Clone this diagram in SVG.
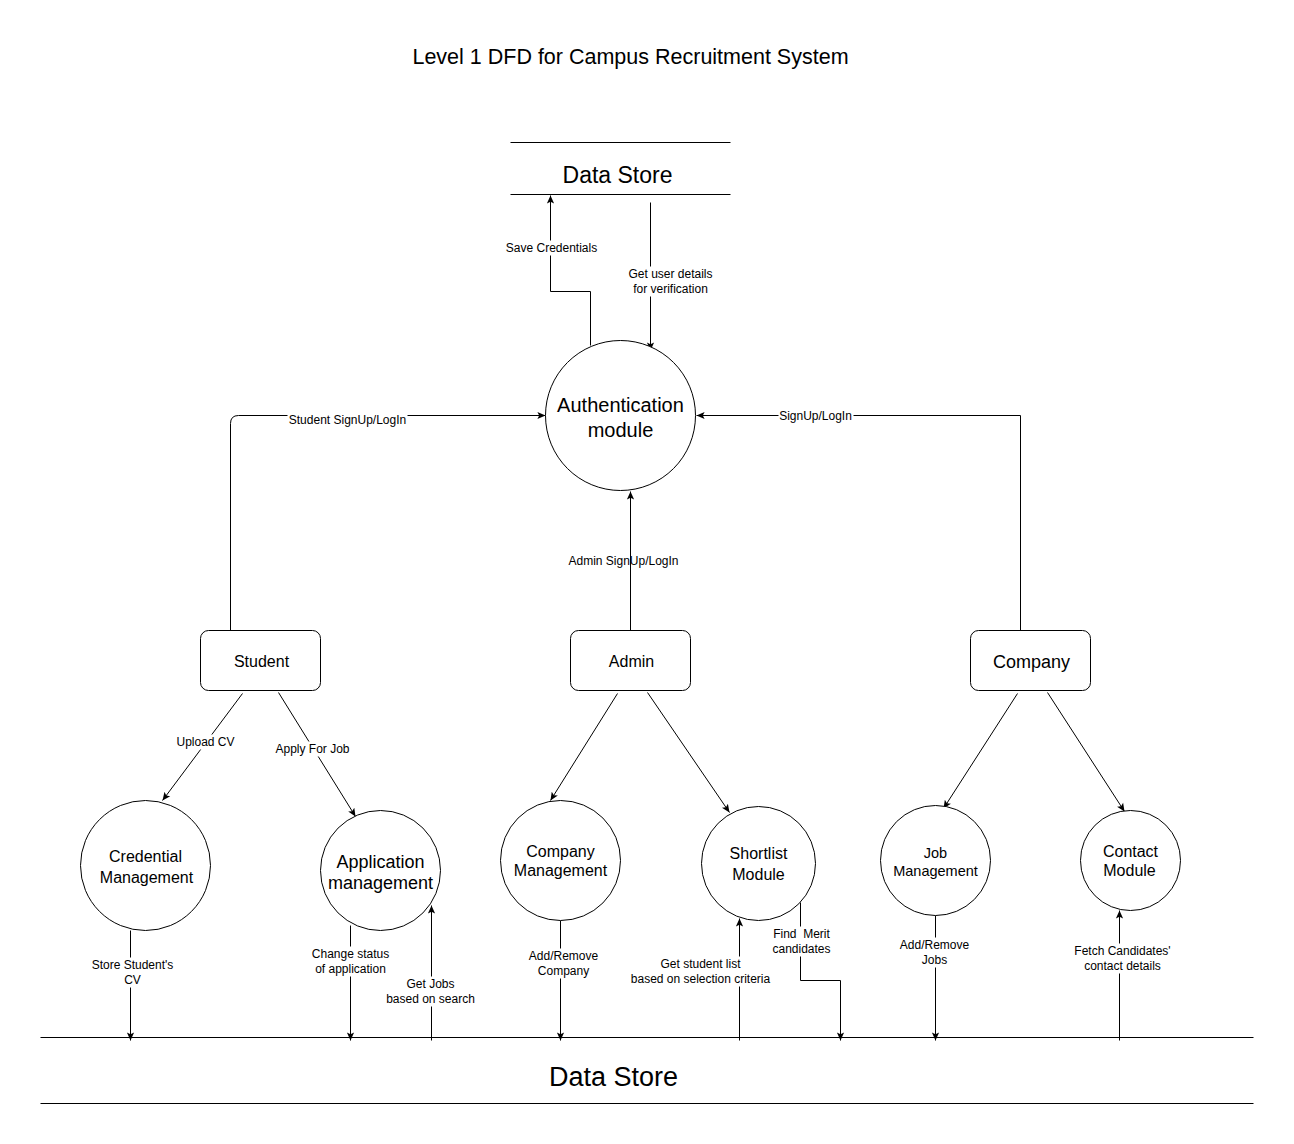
<svg xmlns="http://www.w3.org/2000/svg" width="1294" height="1144" viewBox="0 0 1294 1144">
<style>
text{font-family:"Liberation Sans",Arial,sans-serif;fill:#000;text-anchor:middle;dominant-baseline:central}
.lbl{font-size:12px}
.node{fill:#fff;stroke:#000;stroke-width:1}
.ln{fill:none;stroke:#000;stroke-width:1}
.bg{fill:#fff;stroke:none}
</style>
<defs>
<marker id="ah" viewBox="0 0 10 10" refX="9" refY="5" markerWidth="9" markerHeight="9" markerUnits="userSpaceOnUse" orient="auto">
<path d="M0,1 L9,5 L0,9 L2,5 z" fill="#000"/>
</marker>
</defs>
<rect width="1294" height="1144" fill="#fff"/>
<g transform="translate(0.5,0.5)">
<text x="630" y="56" style="font-size:21.5px">Level 1 DFD for Campus Recruitment System</text>

<g id="datastore-top">
<line class="ln" x1="510" y1="142" x2="730" y2="142"/>
<line class="ln" x1="510" y1="194" x2="730" y2="194"/>
<text x="617" y="174" style="font-size:23px">Data Store</text>
</g>
<g id="datastore-bottom">
<line class="ln" x1="40" y1="1037" x2="1253" y2="1037"/>
<line class="ln" x1="40" y1="1103" x2="1253" y2="1103"/>
<text x="613" y="1076" style="font-size:27px">Data Store</text>
</g>

<g id="connectors">
<path class="ln" d="M590,345 V291 H550 V195" marker-end="url(#ah)"/>
<path class="ln" d="M650,202 V350" marker-end="url(#ah)"/>
<path class="ln" d="M230,630 V423 Q230,415 238,415 H545" marker-end="url(#ah)"/>
<path class="ln" d="M1020,630 V415 H696" marker-end="url(#ah)"/>
<path class="ln" d="M630,630 V491" marker-end="url(#ah)"/>
<path class="ln" d="M242,693 L162,800" marker-end="url(#ah)"/>
<path class="ln" d="M278,692 L355,816" marker-end="url(#ah)"/>
<path class="ln" d="M617,693 L550,800" marker-end="url(#ah)"/>
<path class="ln" d="M647,692 L729,812" marker-end="url(#ah)"/>
<path class="ln" d="M1017,693 L943,808" marker-end="url(#ah)"/>
<path class="ln" d="M1047,692 L1124,811" marker-end="url(#ah)"/>
<path class="ln" d="M130,930 V1040" marker-end="url(#ah)"/>
<path class="ln" d="M350,925 V1040" marker-end="url(#ah)"/>
<path class="ln" d="M431,1040 V905" marker-end="url(#ah)"/>
<path class="ln" d="M560,920 V1040" marker-end="url(#ah)"/>
<path class="ln" d="M739,1040 V918" marker-end="url(#ah)"/>
<path class="ln" d="M800,902 V980 H840 V1040" marker-end="url(#ah)"/>
<path class="ln" d="M935,915 V1040" marker-end="url(#ah)"/>
<path class="ln" d="M1119,1040 V910" marker-end="url(#ah)"/>

<rect class="bg" x="503" y="240" width="96" height="15"/>
<text class="lbl" x="551" y="247">Save Credentials</text>
<rect class="bg" x="627" y="266" width="87" height="30"/>
<text class="lbl" x="670" y="273">Get user details</text>
<text class="lbl" x="670" y="288">for verification</text>
<rect class="bg" x="287" y="411" width="120" height="16"/>
<text class="lbl" x="347" y="419">Student SignUp/LogIn</text>
<rect class="bg" x="778" y="408" width="75" height="15"/>
<text class="lbl" x="815" y="415">SignUp/LogIn</text>
<text class="lbl" x="623" y="560">Admin SignUp/LogIn</text>
<rect class="bg" x="174" y="734" width="62" height="15"/>
<text class="lbl" x="205" y="741">Upload CV</text>
<rect class="bg" x="274" y="741" width="77" height="15"/>
<text class="lbl" x="312" y="748">Apply For Job</text>
<rect class="bg" x="90" y="957" width="85" height="30"/>
<text class="lbl" x="132" y="964">Store Student's</text>
<text class="lbl" x="132" y="979">CV</text>
<rect class="bg" x="310" y="946" width="81" height="30"/>
<text class="lbl" x="350" y="953">Change status</text>
<text class="lbl" x="350" y="968">of application</text>
<rect class="bg" x="384" y="976" width="93" height="30"/>
<text class="lbl" x="430" y="983">Get Jobs</text>
<text class="lbl" x="430" y="998">based on search</text>
<rect class="bg" x="527" y="948" width="73" height="30"/>
<text class="lbl" x="563" y="955">Add/Remove</text>
<text class="lbl" x="563" y="970">Company</text>
<rect class="bg" x="627" y="956" width="146" height="30"/>
<text class="lbl" x="700" y="963">Get student list</text>
<text class="lbl" x="700" y="978">based on selection criteria</text>
<rect class="bg" x="770" y="926" width="62" height="30"/>
<text class="lbl" x="801" y="933" xml:space="preserve">Find  Merit</text>
<text class="lbl" x="801" y="948">candidates</text>
<rect class="bg" x="898" y="937" width="73" height="30"/>
<text class="lbl" x="934" y="944">Add/Remove</text>
<text class="lbl" x="934" y="959">Jobs</text>
<rect class="bg" x="1072" y="943" width="100" height="30"/>
<text class="lbl" x="1122" y="950">Fetch Candidates'</text>
<text class="lbl" x="1122" y="965">contact details</text>
</g>

<g id="auth">
<circle class="node" cx="620" cy="415" r="75"/>
<text x="620" y="404" style="font-size:20px">Authentication</text>
<text x="620" y="429" style="font-size:20px">module</text>
</g>
<g id="student">
<rect class="node" x="200" y="630" width="120" height="60" rx="8"/>
<text x="261" y="661" style="font-size:16px">Student</text>
</g>
<g id="admin">
<rect class="node" x="570" y="630" width="120" height="60" rx="8"/>
<text x="631" y="661" style="font-size:16px">Admin</text>
</g>
<g id="company">
<rect class="node" x="970" y="630" width="120" height="60" rx="8"/>
<text x="1031" y="661" style="font-size:18px">Company</text>
</g>
<g id="credential">
<circle class="node" cx="145" cy="865" r="65"/>
<text x="145" y="856" style="font-size:16px">Credential</text>
<text x="146" y="877" style="font-size:16px">Management</text>
</g>
<g id="application">
<circle class="node" cx="380" cy="870" r="60"/>
<text x="380" y="861" style="font-size:18px">Application</text>
<text x="380" y="882" style="font-size:18px">management</text>
</g>
<g id="company-mgmt">
<circle class="node" cx="560" cy="860" r="60"/>
<text x="560" y="851" style="font-size:16px">Company</text>
<text x="560" y="870" style="font-size:16px">Management</text>
</g>
<g id="shortlist">
<circle class="node" cx="758" cy="863" r="57"/>
<text x="758" y="853" style="font-size:16px">Shortlist</text>
<text x="758" y="874" style="font-size:16px">Module</text>
</g>
<g id="job-mgmt">
<circle class="node" cx="935" cy="860" r="55"/>
<text x="935" y="852" style="font-size:14.5px">Job</text>
<text x="935" y="870" style="font-size:14.5px">Management</text>
</g>
<g id="contact">
<circle class="node" cx="1130" cy="860" r="50"/>
<text x="1130" y="851" style="font-size:16px">Contact</text>
<text x="1129" y="870" style="font-size:16px">Module</text>
</g>
</g>
</svg>
